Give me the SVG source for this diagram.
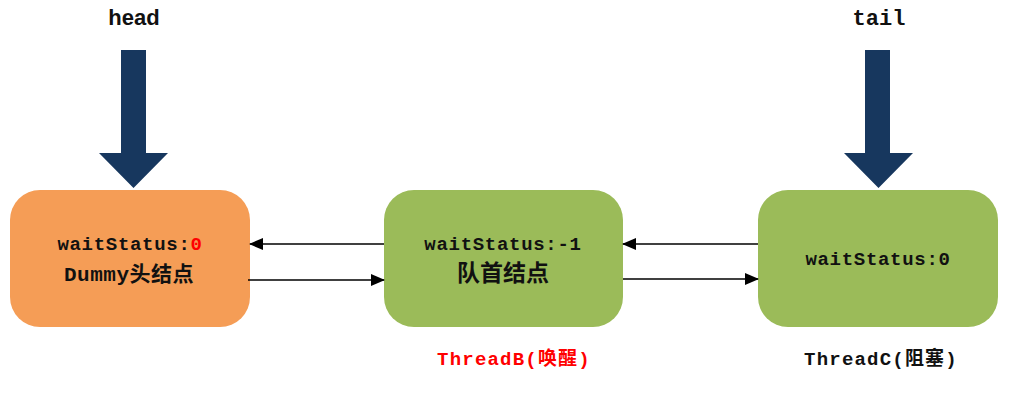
<svg xmlns="http://www.w3.org/2000/svg" width="1030" height="402" viewBox="0 0 1030 402">
<style>
.mono{font-family:"Liberation Mono","Noto Sans CJK SC",monospace;font-weight:bold;fill:#111;text-anchor:middle}
.sans{font-family:"Liberation Sans","Noto Sans CJK SC",sans-serif;font-weight:bold;fill:#111;text-anchor:middle}
.ptr{fill:#17375E}
.link{stroke:#000;stroke-width:1.5;fill:none;marker-end:url(#ah)}
</style>
<defs>
<marker id="ah" markerWidth="14" markerHeight="12" refX="13" refY="6" orient="auto" markerUnits="userSpaceOnUse">
<path d="M0,0 L14,6 L0,12 Z" fill="#000"/>
</marker>
</defs>
<rect width="1030" height="402" fill="#fff"/>
<g id="head">
<text class="sans" x="134" y="25" font-size="22">head</text>
<path class="ptr" d="M121,50 H146 V153 H168 L133.5,188 L99,153 H121 Z"/>
</g>
<g id="tail">
<text class="mono" x="879" y="25" font-size="22">tail</text>
<path class="ptr" d="M865,50 H890 V153 H913 L878.5,188 L844,153 H865 Z"/>
</g>
<g id="dummy">
<rect x="10" y="190" width="240" height="137" rx="30" fill="#F59D56"/>
<text class="mono" x="130" y="250" font-size="19" letter-spacing="0.7">waitStatus:<tspan fill="#FF0000">0</tspan></text>
<text class="mono" x="129" y="281" font-size="21" letter-spacing="0.5">Dummy头结点</text>
</g>
<g id="nodeB">
<rect x="384" y="190" width="239" height="137" rx="30" fill="#9BBB59"/>
<text class="mono" x="503" y="250" font-size="19" letter-spacing="0.7">waitStatus:-1</text>
<text class="mono" x="503" y="281" font-size="23">队首结点</text>
<text class="mono" x="514" y="365" font-size="19" letter-spacing="1.2" style="fill:#FF0000">ThreadB(唤醒)</text>
</g>
<g id="nodeC">
<rect x="758" y="190" width="240" height="137" rx="30" fill="#9BBB59"/>
<text class="mono" x="878" y="265" font-size="19" letter-spacing="0.7">waitStatus:0</text>
<text class="mono" x="881" y="365" font-size="19" letter-spacing="1.2">ThreadC(阻塞)</text>
</g>
<g id="connectors">
<line class="link" x1="384" y1="244" x2="250" y2="244"/>
<line class="link" x1="248" y1="280" x2="384" y2="280"/>
<line class="link" x1="758" y1="244" x2="623" y2="244"/>
<line class="link" x1="623" y1="279" x2="758" y2="279"/>
</g>
</svg>
